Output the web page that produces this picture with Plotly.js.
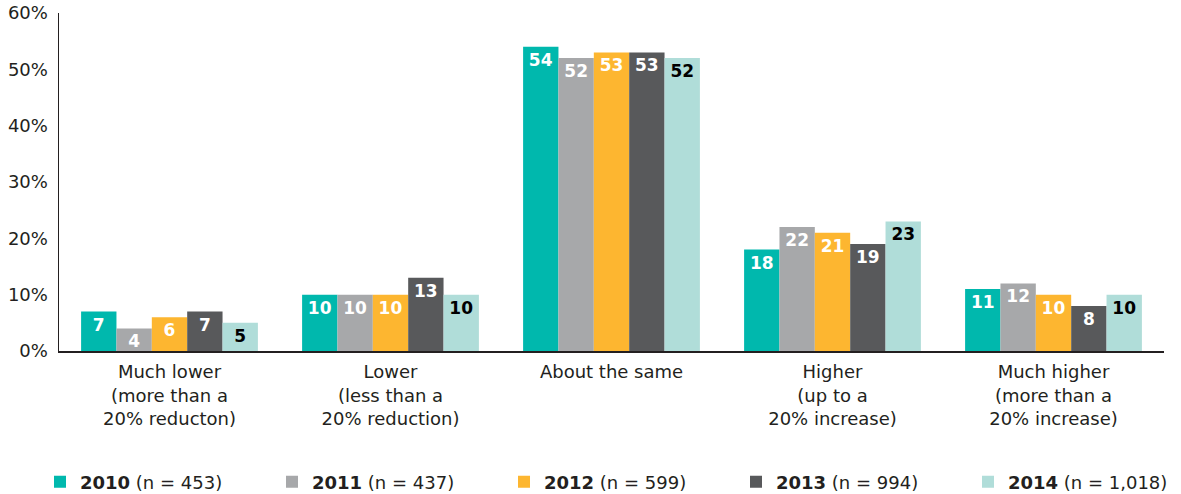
<!DOCTYPE html>
<html>
<head>
<meta charset="utf-8">
<script src="https://cdn.plot.ly/plotly-3.0.1.min.js"></script>
<style>
  html, body { margin: 0; padding: 0; background: #ffffff; }
  #chart { width: 1181px; height: 494px; }
</style>
</head>
<body>
<div id="chart"></div>
<script>
// ---- Data ----
const categories = [
  "Much lower<br>(more than a<br>20% reducton)",
  "Lower<br>(less than a<br>20% reduction)",
  "About the same",
  "Higher<br>(up to a<br>20% increase)",
  "Much higher<br>(more than a<br>20% increase)"
];
const seriesNames = [
  "<b>2010</b> (n = 453)",
  "<b>2011</b> (n = 437)",
  "<b>2012</b> (n = 599)",
  "<b>2013</b> (n = 994)",
  "<b>2014</b> (n = 1,018)"
];
const values2010 = [7, 10, 54, 18, 11];
const values2011 = [4, 10, 52, 22, 12];
const values2012 = [6, 10, 53, 21, 10];
const values2013 = [7, 13, 53, 19, 8];
const values2014 = [5, 10, 52, 23, 10];
const yTickValues = [0, 10, 20, 30, 40, 50, 60];

// ---- Styles ----
const seriesValues = [values2010, values2011, values2012, values2013, values2014];
const colors = ["#00B8AD", "#A7A8AA", "#FDB630", "#58595B", "#B0DDD9"];
const labelColors = ["#ffffff", "#ffffff", "#ffffff", "#ffffff", "#000000"];
const legendWidths = [187, 187, 187, 187, 178];
const FONT = "DejaVu Sans, Liberation Sans, sans-serif";

const W = 1181, H = 494;
const M = { l: 59, r: 17, t: 13, b: 143 };
const plotW = W - M.l - M.r, plotH = H - M.t - M.b;

const traces = seriesValues.map((vals, i) => ({
  type: "bar",
  name: seriesNames[i],
  x: categories,
  y: vals,
  text: vals.map(v => String(v)),
  textposition: "inside",
  insidetextanchor: "end",
  textangle: 0,
  constraintext: "none",
  cliponaxis: false,
  legendwidth: legendWidths[i],
  textfont: { family: FONT, size: 17, color: labelColors[i], weight: "bold" },
  marker: { color: colors[i], line: { width: 0 } },
  hoverinfo: "skip"
}));

const layout = {
  width: W,
  height: H,
  margin: { l: M.l, r: M.r, t: M.t, b: M.b, autoexpand: false },
  paper_bgcolor: "#ffffff",
  plot_bgcolor: "#ffffff",
  font: { family: FONT, size: 18, color: "#231F20" },
  barmode: "group",
  bargap: 0.2,
  bargroupgap: 0,
  showlegend: true,
  legend: {
    orientation: "h",
    xref: "paper",
    yref: "paper",
    x: (40 - M.l) / plotW,
    xanchor: "left",
    y: -(482 - (H - M.b)) / plotH,
    yanchor: "middle",
    entrywidthmode: "pixels",
    traceorder: "normal",
    font: { family: FONT, size: 18, color: "#231F20" },
    bgcolor: "rgba(0,0,0,0)"
  },
  xaxis: {
    type: "category",
    showgrid: false,
    zeroline: false,
    showline: true,
    linecolor: "#231F20",
    linewidth: 1.5,
    ticks: "",
    tickfont: { family: FONT, size: 18, color: "#231F20" },
    ticklabelstandoff: 4,
    fixedrange: true
  },
  yaxis: {
    range: [0, 60],
    tickvals: yTickValues,
    ticktext: yTickValues.map(v => v + "%"),
    showgrid: false,
    zeroline: false,
    showline: true,
    linecolor: "#231F20",
    linewidth: 1.5,
    ticks: "",
    ticklabelstandoff: 6,
    tickfont: { family: FONT, size: 18, color: "#231F20" },
    fixedrange: true
  },
  hovermode: false
};

Plotly.newPlot("chart", traces, layout, { displayModeBar: false, staticPlot: true });
</script>
</body>
</html>
